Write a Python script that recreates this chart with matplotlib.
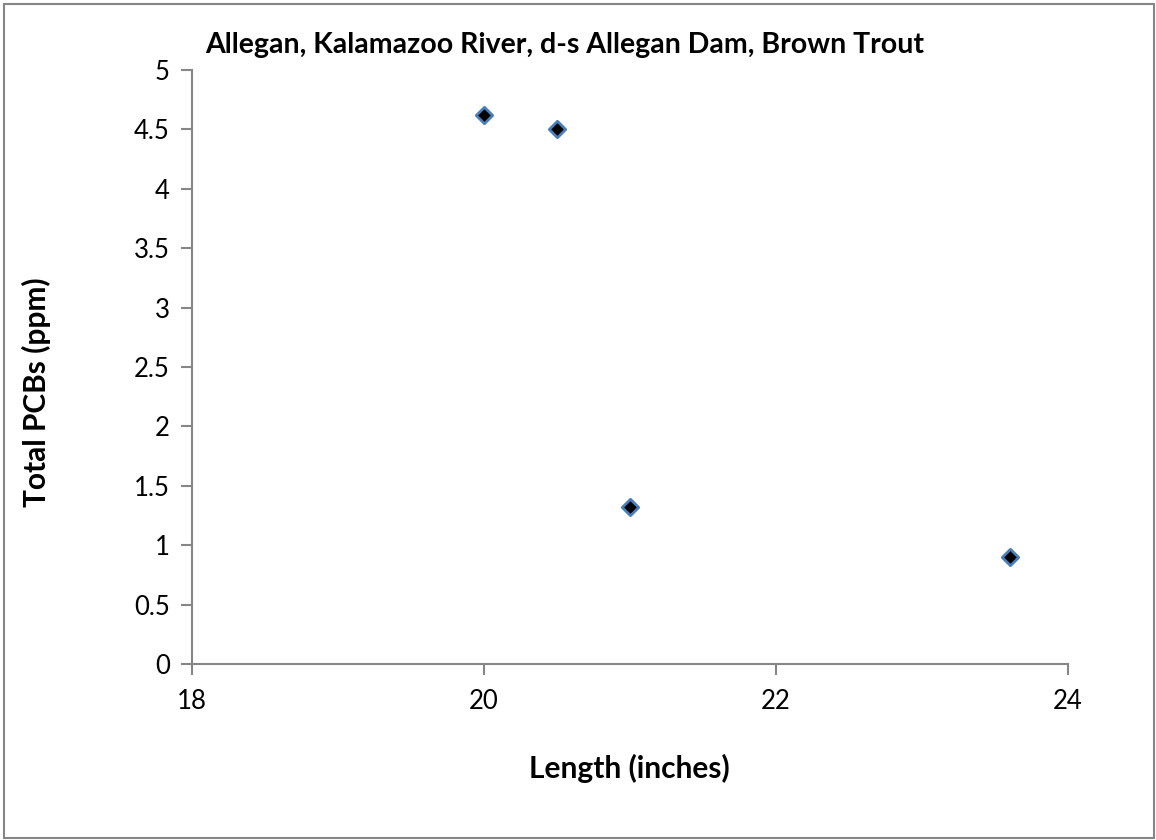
import matplotlib
matplotlib.use("Agg")
import matplotlib.pyplot as plt
from matplotlib.patches import Rectangle

length_in = [20.0, 20.5, 21.0, 23.6]
pcb_ppm = [4.62, 4.50, 1.32, 0.90]
x_ticks = [18, 20, 22, 24]
y_ticks = [0, 0.5, 1, 1.5, 2, 2.5, 3, 3.5, 4, 4.5, 5]
y_labels = ["0", "0.5", "1", "1.5", "2", "2.5", "3", "3.5", "4", "4.5", "5"]

plt.rcParams['font.family'] = ['Lato', 'DejaVu Sans']

fig = plt.figure(figsize=(11.56, 8.40), dpi=100)
ax = fig.add_axes([192/1156, 1-664/840, (1068-192)/1156, (664-70)/840])

ax.scatter(length_in, pcb_ppm, marker='D', s=70, facecolor='black',
           edgecolor='#4a7ebb', linewidths=2.0, zorder=3)

ax.set_xlim(18, 24)
ax.set_ylim(0, 5)
ax.set_xticks(x_ticks)
ax.set_xticklabels([str(t) for t in x_ticks])
ax.set_yticks(y_ticks)
ax.set_yticklabels(y_labels)
for s in ['top', 'right']:
    ax.spines[s].set_visible(False)
for s in ['left', 'bottom']:
    ax.spines[s].set_color('#868686')
    ax.spines[s].set_linewidth(1.5)
ax.tick_params(axis='both', direction='out', length=8, width=1.5, color='#868686',
               labelsize=18.5, labelcolor='black')
ax.tick_params(axis='x', pad=10)
ax.tick_params(axis='y', pad=8)

fig.text(565/1156, 1-45/840, "Allegan, Kalamazoo River, d-s Allegan Dam, Brown Trout",
         ha='center', va='center', fontsize=20.5, fontweight='bold')
fig.text(629/1156, 1-768/840, "Length (inches)", ha='center', va='center',
         fontsize=21.5, fontweight='bold')
fig.text(36/1156, 1-392/840, "Total PCBs (ppm)", ha='center', va='center',
         rotation=90, fontsize=21.5, fontweight='bold')

fig.patches.append(Rectangle((4/1156, 2/840), 1150/1156, 834/840, transform=fig.transFigure,
                             fill=False, edgecolor='#868686', linewidth=1.5))

fig.savefig("out.png", dpi=100)
